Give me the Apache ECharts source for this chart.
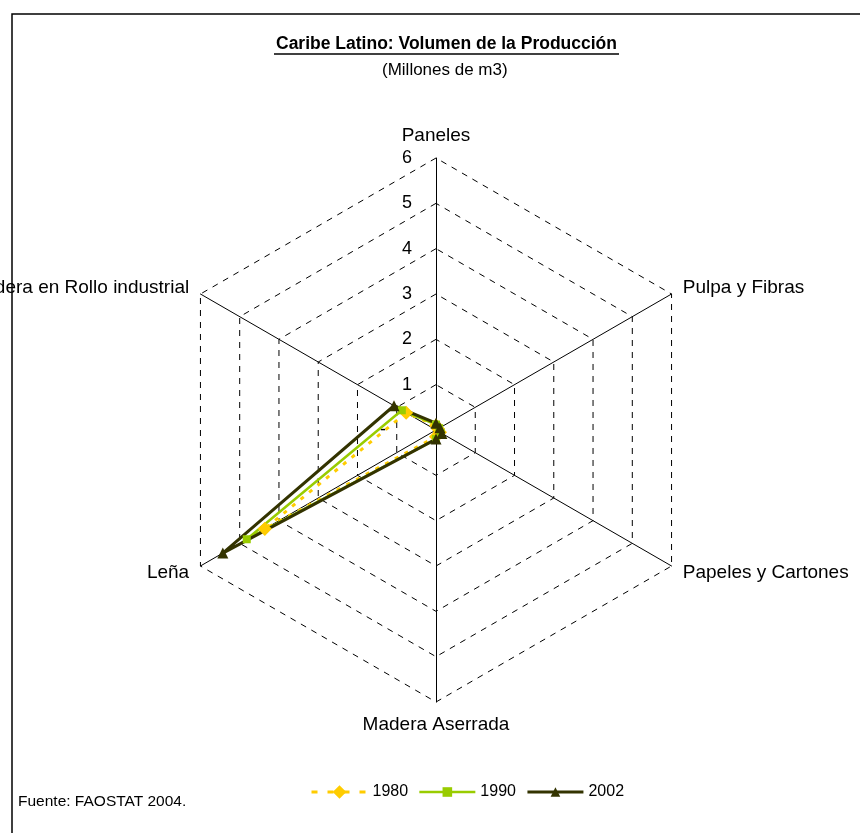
<!DOCTYPE html>
<html><head><meta charset="utf-8">
<script src="https://cdn.jsdelivr.net/npm/echarts@6/dist/echarts.min.js"></script>
<style>html,body{margin:0;padding:0;background:#fff}#c{width:860px;height:833px}</style>
</head><body><div id="c"></div>
<script>
// Data
const categories = ['Paneles', 'Madera en Rollo industrial', 'Leña', 'Madera Aserrada', 'Papeles y Cartones', 'Pulpa y Fibras'];
const seriesNames = ['1980', '1990', '2002'];
const v1980 = [0.10, 0.76, 4.36, 0.15, 0.10, 0.05];
const v1990 = [0.12, 0.87, 4.82, 0.20, 0.12, 0.08];
const v2002 = [0.15, 1.07, 5.43, 0.20, 0.15, 0.10];
const tickLabels = ['-', '1', '2', '3', '4', '5', '6'];
const axisMax = 6;

const FONT = 'Liberation Sans, Arial, sans-serif';
const chart = echarts.init(document.getElementById('c'));
const C = [436, 430], R = 272;
const styles = {
  '1980': { color: '#FFCC00', width: 3, type: [4, 7], legendType: [6, 10], symbol: 'rect', size: 10, rotate: 45 },
  '1990': { color: '#99CC00', width: 2.5, type: 'solid', legendType: 'solid', symbol: 'rect', size: 8, rotate: 0 },
  '2002': { color: '#333300', width: 3, type: 'solid', legendType: 'solid', symbol: 'triangle', size: 11, rotate: 0 }
};
const values = { '1980': v1980, '1990': v1990, '2002': v2002 };
// legend helper series (no data) so the legend shows line + marker icons
const legendHelpers = seriesNames.map(n => ({
  type: 'line', name: n, data: [], xAxisIndex: 0, yAxisIndex: 0,
  symbol: styles[n].symbol, symbolSize: styles[n].size, symbolRotate: styles[n].rotate,
  lineStyle: { color: styles[n].color, width: styles[n].width, type: styles[n].legendType },
  itemStyle: { color: styles[n].color }
}));
const option = {
  backgroundColor: '#fff',
  animation: false,
  textStyle: { fontFamily: FONT },
  title: [
    { text: 'Caribe Latino: Volumen de la Producción', left: 276, top: 35, padding: 0,
      textStyle: { fontFamily: FONT, fontSize: 17.5, fontWeight: 'bold', color: '#000' } },
    { text: '(Millones de m3)', left: 382, top: 62, padding: 0,
      textStyle: { fontFamily: FONT, fontSize: 17, fontWeight: 'normal', color: '#000' } },
    { text: 'Fuente: FAOSTAT 2004.', left: 18, top: 794, padding: 0,
      textStyle: { fontFamily: FONT, fontSize: 15.5, fontWeight: 'normal', color: '#000' } }
  ],
  graphic: [
    { type: 'rect', shape: { x: 12, y: 14, width: 900, height: 900 }, style: { fill: 'none', stroke: '#000', lineWidth: 1.5 }, silent: true },
    { type: 'line', shape: { x1: 274, y1: 54, x2: 619, y2: 54 }, style: { stroke: '#000', lineWidth: 1.5 }, silent: true }
  ],
  grid: { left: 0, top: 0, width: 10, height: 10, show: false },
  xAxis: { show: false, type: 'value' },
  yAxis: { show: false, type: 'value' },
  legend: {
    data: seriesNames, top: 779, left: 305, itemWidth: 56, itemHeight: 12, itemGap: 10,
    lineStyle: { width: 'inherit', type: 'inherit' },
    textStyle: { fontFamily: FONT, fontSize: 16, color: '#000' }
  },
  radar: {
    center: C, radius: R, shape: 'polygon', splitNumber: 6, startAngle: 90,
    indicator: categories.map(n => ({ name: n, min: 0, max: axisMax })),
    axisName: { color: '#000', fontSize: 19, fontFamily: FONT },
    nameGap: 13,
    axisLine: { lineStyle: { color: '#000', width: 1 } },
    splitLine: { lineStyle: { color: '#000', width: 1, type: [6, 6] } },
    splitArea: { show: false },
    axisTick: { show: false },
    axisLabel: { show: false }
  },
  polar: { center: C, radius: R },
  angleAxis: { show: false, startAngle: 90, min: 0, max: 360 },
  radiusAxis: {
    min: 0, max: axisMax, interval: 1,
    axisLine: { show: false }, axisTick: { show: false }, splitLine: { show: false },
    axisLabel: { show: true, margin: 24, fontSize: 18, color: '#000', fontFamily: FONT,
      formatter: v => (Math.round(v) === 0 ? '{z|' + tickLabels[0] + '}' : tickLabels[Math.round(v)]),
      rich: { z: { fontSize: 18, color: '#000', fontFamily: FONT, padding: [0, 26, 0, 0] } } }
  },
  series: legendHelpers.concat([{
    type: 'radar',
    name: 'Producción',
    data: seriesNames.map(n => ({
      name: n, value: values[n], symbol: styles[n].symbol, symbolSize: styles[n].size, symbolRotate: styles[n].rotate,
      lineStyle: { color: styles[n].color, width: styles[n].width, type: styles[n].type },
      itemStyle: { color: styles[n].color }
    }))
  }])
};
chart.setOption(option);
</script></body></html>
